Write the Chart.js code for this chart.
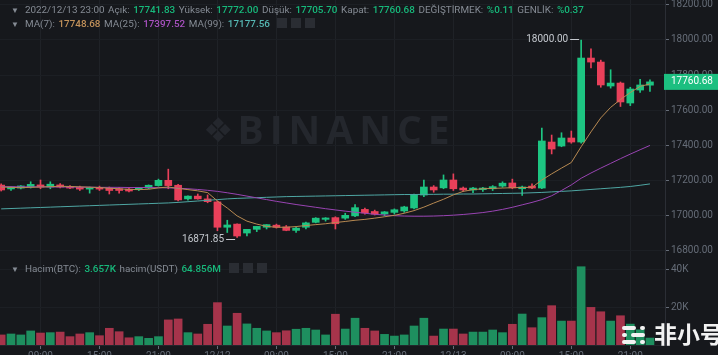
<!DOCTYPE html>
<html>
<head>
<meta charset="utf-8">
<script src="https://cdn.jsdelivr.net/npm/chart.js@4/dist/chart.umd.min.js"></script>
<style>
body{margin:0;background:#16181c;width:718px;height:355px;overflow:hidden;position:relative;font-family:Roboto,"Noto Sans",sans-serif}
canvas{position:absolute;left:0}
#pc{top:0}
#vc{top:258px}
.hd{position:absolute;font-size:9.9px;color:#858b94;white-space:nowrap;z-index:3}
.hd span{margin-right:3.6px}
.tri{font-size:8px;margin-right:6px!important;color:#858b94}
.g{color:#17b97b;font-weight:500}
.m7{color:#c3925a;font-weight:500}
.m25{color:#a851c0;font-weight:500}
.m99{color:#56b8b4;font-weight:500}
.box{display:inline-block;width:10px;height:10px;background:#2a2d33;margin-left:4px;vertical-align:-1px}
#wm{position:absolute;left:203px;top:102px;color:#24272d;font-size:39px;font-weight:700;letter-spacing:6px;z-index:1;font-family:"Open Sans",sans-serif}
#wm b{font-family:"DejaVu Sans";font-size:34px;margin-right:4px;vertical-align:2px;letter-spacing:0}
#fx{position:absolute;left:622px;top:316px;z-index:4;color:#f2f2f2;font-family:"Noto Sans CJK SC";font-size:23px;font-weight:700;white-space:nowrap}
#fx i{display:inline-block;width:24px;height:22px;margin-right:8px;vertical-align:-3px;position:relative}
#fx i s{position:absolute;left:0;height:4px;background:#f2f2f2;border-radius:2px}
</style>
</head>
<body>
<div id="wm"><b>❖</b>BINANCE</div>
<div class="hd" style="left:11px;top:4px"><span class="tri">▼</span><span>2022/12/13 23:00</span><span>Açık:</span><span class="g">17741.83</span><span>Yüksek:</span><span class="g">17772.00</span><span>Düşük:</span><span class="g">17705.70</span><span>Kapat:</span><span class="g">17760.68</span><span>DEĞİŞTİRMEK:</span><span class="g">%0.11</span><span>GENLİK:</span><span class="g">%0.37</span></div>
<div class="hd" style="left:11px;top:18px"><span class="tri">▼</span><span>MA(7):</span><span class="m7">17748.68</span><span>MA(25):</span><span class="m25">17397.52</span><span>MA(99):</span><span class="m99">17177.56</span><i class="box"></i><i class="box"></i><i class="box"></i></div>
<div class="hd" style="left:11px;top:263px"><span class="tri">▼</span><span>Hacim(BTC):</span><span class="g">3.657K</span><span>hacim(USDT)</span><span class="g">64.856M</span><i class="box"></i><i class="box"></i><i class="box"></i></div>
<div id="fx"><i><s style="top:2px;width:14px"></s><s style="top:2px;left:18px;width:5px"></s><s style="top:9px;width:5px"></s><s style="top:9px;left:9px;width:14px"></s><s style="top:16px;width:14px"></s><s style="top:16px;left:18px;width:5px"></s></i>非小号</div>
<canvas id="pc" width="718" height="258"></canvas>
<canvas id="vc" width="718" height="97"></canvas>
<script>
const opens = [17171,17149,17154,17160,17172,17160,17172,17162,17158,17148,
  17158,17154,17150,17148,17145,17154,17168,17198,17170,17092,
  17108,17092,17075,16930,16948,16897,16918,16930,16942,16932,
  16912,16930,16958,16975,16985,16982,16995,17032,17020,17006,
  17015,17023,17040,17114,17160,17155,17200,17154,17143,17145,
  17150,17165,17183,17150,17165,17154,17417,17394,17440,17417,
  17897,17874,17737,17754,17640,17714,17741.83];
const highs = [17178,17160,17168,17190,17200,17190,17180,17168,17165,17160,
  17165,17160,17158,17155,17158,17172,17205,17262,17175,17110,
  17120,17115,17080,16970,16950,16905,16935,16945,16948,16940,
  16930,16960,16985,16985,16990,17010,17060,17040,17028,17020,
  17035,17050,17120,17200,17168,17229,17235,17160,17158,17158,
  17168,17190,17205,17165,17178,17497,17457,17470,17480,18000,
  17950,17885,17830,17760,17730,17775,17772.00];
const lows = [17137,17140,17149,17154,17150,17150,17155,17150,17140,17125,
  17140,17120,17125,17132,17140,17150,17165,17150,17080,17085,
  17090,17070,16910,16900,16871.85,16880,16905,16920,16925,16910,
  16900,16920,16955,16965,16920,16975,16990,17005,17000,16995,
  17005,17015,17035,17105,17130,17150,17140,17135,17128,17135,
  17140,17158,17150,17112,17150,17150,17349,17390,17410,17410,
  17840,17730,17725,17620,17625,17700,17705.70];
const closes = [17143,17160,17166,17175,17160,17176,17160,17154,17148,17157,
  17148,17140,17140,17137,17154,17170,17198,17168,17086,17108,
  17092,17076,16930,16943,16880,16918,16935,16945,16930,16912,
  16925,16955,16982,16983,16950,16998,17042,17012,17005,17018,
  17030,17046,17115,17160,17143,17200,17150,17143,17154,17154,
  17162,17182,17155,17160,17154,17423,17377,17440,17417,17897,
  17874,17743,17754,17646,17720,17743,17760.68];
const ma7 = [17160,17158,17156,17158,17160,17162,17164,17163,17161,17159,
  17157,17153,17150,17146,17145,17147,17155,17160,17152,17145,
  17138,17128,17080,17040,16995,16965,16948,16935,16930,16930,
  16934,16940,16945,16950,16957,16963,16970,16975,16982,16990,
  16998,17010,17025,17045,17068,17090,17115,17135,17145,17150,
  17152,17154,17156,17157,17158,17200,17235,17268,17300,17390,
  17475,17555,17615,17660,17700,17735,17748.68];
const ma25 = [17162,17162,17161,17161,17161,17160,17160,17160,17159,17159,
  17158,17158,17158,17157,17157,17157,17156,17155,17153,17150,
  17146,17141,17135,17127,17118,17108,17098,17088,17078,17069,
  17060,17052,17044,17036,17029,17022,17016,17010,17004,17000,
  16996,16994,16993,16993,16994,16996,16999,17003,17008,17014,
  17022,17032,17044,17058,17072,17088,17110,17140,17172,17210,
  17240,17268,17295,17322,17348,17373,17397.52];
const ma99 = [17035,17037,17039,17041,17043,17045,17047,17049,17051,17053,
  17055,17057,17059,17061,17063,17065,17067,17069,17072,17076,
  17080,17084,17088,17092,17095,17097,17099,17101,17103,17105,
  17106,17107,17108,17109,17110,17111,17112,17113,17114,17115,
  17116,17117,17117,17118,17118,17119,17119,17120,17120,17121,
  17122,17123,17124,17125,17127,17129,17132,17135,17138,17142,
  17146,17150,17154,17158,17163,17170,17177.56];
// volume in thousands BTC
const vols = [5.3,5.8,5.3,7.4,6.3,6.5,6.8,4.4,5.8,6.5,
  4.9,8.8,7.0,3.8,4.4,3.5,4.4,13.2,13.7,6.5,
  5.8,10.9,22.3,10.0,16.7,11.1,8.8,7.4,6.5,7.5,
  8.3,8.8,7.9,5.3,16.2,8.4,14.1,8.8,7.4,5.6,
  4.7,5.3,10.0,14.1,4.7,8.4,8.4,5.8,6.8,6.8,
  7.9,6.5,10.9,16.3,9.1,14.4,20.7,12.6,12.6,41.2,
  19.8,17.5,12.6,15.4,11.0,8.0,3.657];
const tickIdx = [4,10,16,22,28,34,40,46,52,58,64];
const tickText = ["09:00","15:00","21:00","12/12","09:00","15:00","21:00","12/13","09:00","15:00","21:00"];
const priceTicks = [16800,17000,17200,17400,17600,17800,18000,18200];
const volTicks = [20,40];
const markIdx = [59,24];
const markVal = [18000,16871.85];
const lastPrice = 17760.68;

const UP = '#1dc582', DN = '#e9405a';
const UPV = '#1e8f5f', DNV = '#a6344b';
Chart.defaults.font.family = 'Roboto';
Chart.defaults.font.size = 10;

const idx = opens.map((_, i) => i);
const up = idx.map(i => closes[i] >= opens[i]);
const xMin = -0.12, xMax = 67.53;

function noPad(s) { s.paddingTop = 0; s.paddingBottom = 0; s.paddingLeft = 0; s.paddingRight = 0; }

const marks = {
  id: 'marks',
  afterDraw(chart) {
    const ctx = chart.ctx, x = chart.scales.x, y = chart.scales.y;
    ctx.save();
    ctx.font = '10px Roboto';
    ctx.fillStyle = '#c4c8ce';
    ctx.strokeStyle = '#c4c8ce';
    ctx.lineWidth = 1;
    ctx.textAlign = 'right';
    ctx.textBaseline = 'middle';
    markIdx.forEach((m, k) => {
      const px = x.getPixelForValue(m), py = Math.round(y.getPixelForValue(markVal[k])) + (k ? 2 : -1);
      ctx.beginPath();
      ctx.moveTo(px - 2, py + 0.5); ctx.lineTo(px - 11, py + 0.5);
      ctx.stroke();
      ctx.fillText(markVal[k].toFixed(2), px - 13, py);
    });
    // current price tag
    const py = y.getPixelForValue(lastPrice);
    ctx.fillStyle = '#1cbf80';
    ctx.fillRect(664, py - 8, 54, 16);
    ctx.fillStyle = '#ffffff';
    ctx.textAlign = 'left';
    ctx.fillText(lastPrice.toFixed(2), 671, py);
    ctx.restore();
  }
};

new Chart(document.getElementById('pc'), {
  type: 'bar',
  data: {
    datasets: [
      { type: 'line', data: idx.map(i => ({x: i, y: ma7[i]})), borderColor: '#b88a52', borderWidth: 1, pointRadius: 0, order: 0 },
      { type: 'line', data: idx.map(i => ({x: i, y: ma25[i]})), borderColor: '#9944b3', borderWidth: 1, pointRadius: 0, order: 0 },
      { type: 'line', data: idx.map(i => ({x: i, y: ma99[i]})), borderColor: '#4fa7a4', borderWidth: 1, pointRadius: 0, order: 0 },
      { data: idx.map(i => ({x: i, y: [opens[i], closes[i]]})), backgroundColor: idx.map(i => up[i] ? UP : DN),
        barThickness: 7, minBarLength: 1, grouped: false, order: 1 },
      { data: idx.map(i => ({x: i, y: [lows[i], highs[i]]})), backgroundColor: idx.map(i => up[i] ? UP : DN),
        barThickness: 1, grouped: false, order: 2 }
    ]
  },
  options: {
    responsive: false, animation: false,
    layout: { padding: 0 },
    plugins: { legend: { display: false }, tooltip: { enabled: false } },
    scales: {
      x: {
        type: 'linear', min: xMin, max: xMax, offset: false,
        afterBuildTicks: s => { s.ticks = tickIdx.map(v => ({value: v})); },
        afterFit: s => { s.height = 0; noPad(s); },
        ticks: { display: false },
        grid: { color: '#1f2227', drawTicks: false, offset: false },
        border: { display: false }
      },
      y: {
        position: 'right', min: 16754.29, max: 18228.57,
        afterBuildTicks: s => { s.ticks = priceTicks.map(v => ({value: v})); },
        afterFit: s => { s.width = 53; noPad(s); },
        ticks: { color: '#666d78', padding: 2, callback: v => v.toFixed(2) },
        grid: { color: '#1c1f24', tickColor: '#666d78', tickLength: 4 },
        border: { color: '#2b2e35' }
      }
    }
  },
  plugins: [marks]
});

new Chart(document.getElementById('vc'), {
  type: 'bar',
  data: {
    datasets: [
      { data: idx.map(i => ({x: i, y: vols[i]})), backgroundColor: idx.map(i => up[i] ? UPV : DNV),
        barThickness: 8, grouped: false }
    ]
  },
  options: {
    responsive: false, animation: false,
    layout: { padding: 0 },
    plugins: { legend: { display: false }, tooltip: { enabled: false } },
    scales: {
      x: {
        type: 'linear', min: xMin, max: xMax, offset: false,
        afterBuildTicks: s => { s.ticks = tickIdx.map(v => ({value: v})); },
        afterFit: s => { s.height = 10; noPad(s); },
        ticks: { color: '#666d78', padding: 1, maxRotation: 0, autoSkip: false, callback: (v, i) => tickText[i] },
        grid: { color: '#1f2227', tickColor: '#666d78', tickLength: 4, offset: false },
        border: { color: '#23262c' }
      },
      y: {
        position: 'right', min: 0, max: 45.79,
        afterBuildTicks: s => { s.ticks = volTicks.map(v => ({value: v})); },
        afterFit: s => { s.width = 53; noPad(s); },
        ticks: { color: '#666d78', padding: 2, callback: v => v + 'K' },
        grid: { color: '#1c1f24', tickColor: '#666d78', tickLength: 4 },
        border: { color: '#2b2e35' }
      }
    }
  }
});
</script>
</body>
</html>
